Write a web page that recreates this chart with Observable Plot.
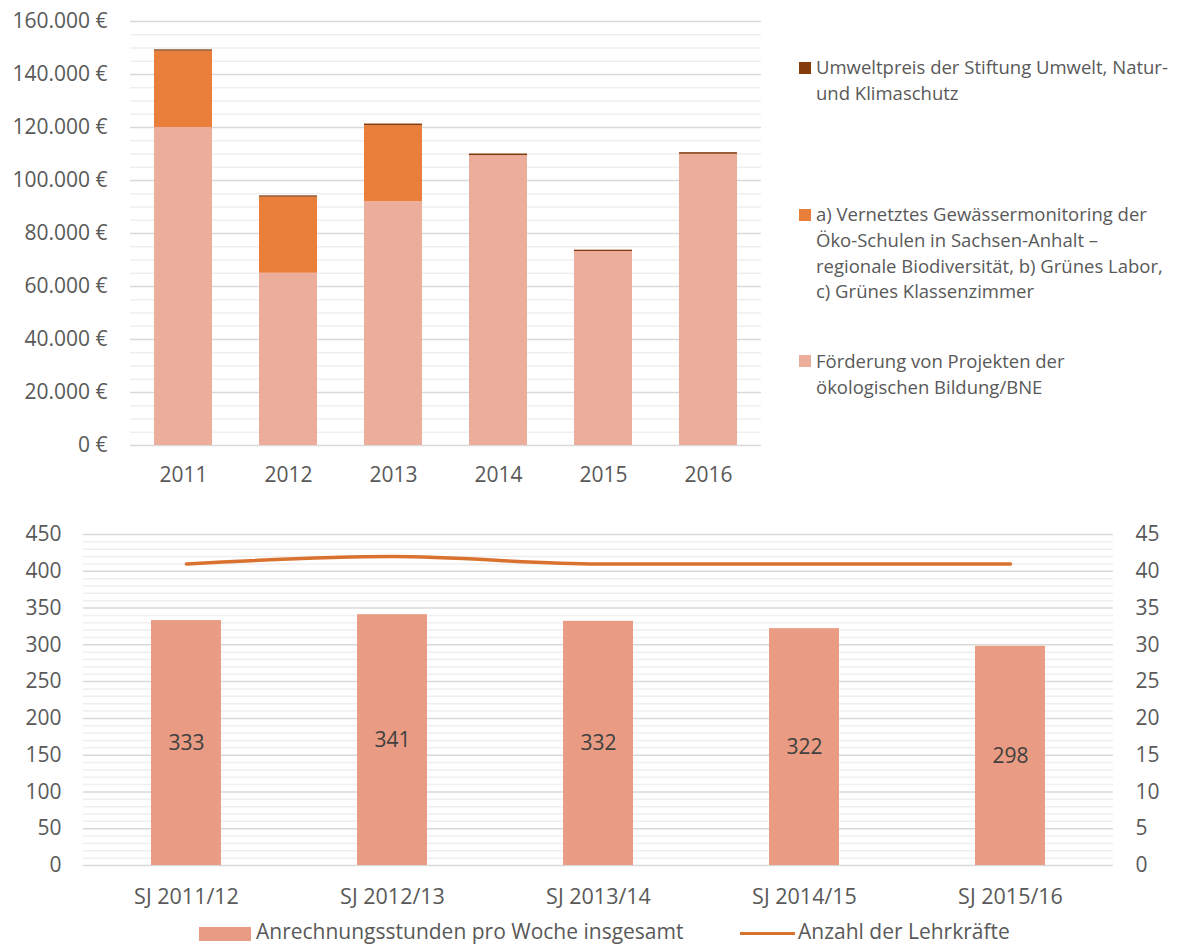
<!DOCTYPE html>
<html>
<head>
<meta charset="utf-8">
<script src="https://cdn.jsdelivr.net/npm/d3@7"></script>
<script src="https://cdn.jsdelivr.net/npm/@observablehq/plot@0.6"></script>
<style>
  body { margin: 0; background: #fff; font-family: "Open Sans", sans-serif; }
  #page { position: relative; width: 1177px; height: 944px; overflow: hidden; background: #fff; }
  #page svg { position: absolute; left: 0; }
  .lg { position: absolute; color: #595959; font-size: 18.5px; line-height: 25.8px; white-space: nowrap; }
  .sw { position: absolute; width: 12px; height: 12px; }
  .blg { position: absolute; color: #595959; font-size: 21px; line-height: 24px; white-space: nowrap; }
</style>
</head>
<body>
<div id="page"></div>
<script>
// ---------- Data: top chart ----------
const years = ["2011", "2012", "2013", "2014", "2015", "2016"];
const seriesNames = [
  "Förderung von Projekten der ökologischen Bildung/BNE",
  "a) Vernetztes Gewässermonitoring der Öko-Schulen in Sachsen-Anhalt – regionale Biodiversität, b) Grünes Labor, c) Grünes Klassenzimmer",
  "Umweltpreis der Stiftung Umwelt, Natur- und Klimaschutz"
];
const bildung     = [120000, 65000, 92000, 109400, 73200, 109900];
const monitoring  = [28800, 28700, 28700, 0, 0, 0];
const umweltpreis = [500, 500, 600, 600, 500, 600];
const yTicksTop = [0, 20000, 40000, 60000, 80000, 100000, 120000, 140000, 160000];

// ---------- Data: bottom chart ----------
const schoolYears = ["SJ 2011/12", "SJ 2012/13", "SJ 2013/14", "SJ 2014/15", "SJ 2015/16"];
const stunden = [333, 341, 332, 322, 298];
const lehrkraefte = [41, 42, 41, 41, 41];
const yTicksLeft = [0, 50, 100, 150, 200, 250, 300, 350, 400, 450];
const barLegend = "Anrechnungsstunden pro Woche insgesamt";
const lineLegend = "Anzahl der Lehrkräfte";

// ---------- Build ----------
const seriesColors = ["#ECAE9B", "#EA7E3B", "#843C0C"];
const seriesValues = [bildung, monitoring, umweltpreis];
const stackData = [];
seriesNames.forEach((s, si) => years.forEach((y, i) => stackData.push({year: y, series: s, value: seriesValues[si][i]})));

const minorTop = d3.range(0, 160001, 5000).filter(v => v % 20000 !== 0);
const fmtEuro = d => d3.format(",")(d).replace(/,/g, ".") + " €";

const page = document.getElementById("page");

const topChart = Plot.plot({
  width: 770,
  height: 500,
  marginLeft: 130,
  marginRight: 9,
  marginTop: 21,
  marginBottom: 55,
  style: {fontFamily: "Open Sans", fontSize: "21px", color: "#595959", background: "transparent", overflow: "visible"},
  x: {domain: years, paddingInner: 0.449, paddingOuter: 0.2245, axis: null, label: null},
  y: {domain: [0, 160000], axis: null, label: null},
  color: {domain: seriesNames, range: seriesColors},
  marks: [
    Plot.ruleY(minorTop, {stroke: "#efefef", strokeWidth: 1.5}),
    Plot.ruleY(yTicksTop, {stroke: "#d9d9d9", strokeWidth: 1.5}),
    Plot.barY(stackData, {x: "year", y: "value", fill: "series", order: seriesNames}),
    Plot.axisY(yTicksTop, {tickSize: 0, tickPadding: 23, tickFormat: fmtEuro, label: null}),
    Plot.axisX({tickSize: 0, tickPadding: 22, label: null})
  ]
});
topChart.style.top = "0px";
page.appendChild(topChart);

// top legend (listed top to bottom: reverse stack order)
const topLegend = [
  {name: ["Umweltpreis der Stiftung Umwelt, Natur-", "und Klimaschutz"], color: seriesColors[2], top: 54, sw: 62},
  {name: ["a) Vernetztes Gewässermonitoring der", "Öko-Schulen in Sachsen-Anhalt –", "regionale Biodiversität, b) Grünes Labor,", "c) Grünes Klassenzimmer"], color: seriesColors[1], top: 201, sw: 209},
  {name: ["Förderung von Projekten der", "ökologischen Bildung/BNE"], color: seriesColors[0], top: 348, sw: 355}
];
topLegend.forEach(e => {
  const sw = document.createElement("div");
  sw.className = "sw";
  sw.style.left = "799px"; sw.style.top = e.sw + "px"; sw.style.background = e.color;
  page.appendChild(sw);
  const t = document.createElement("div");
  t.className = "lg";
  t.style.left = "816px"; t.style.top = e.top + "px";
  t.innerHTML = e.name.join("<br>");
  page.appendChild(t);
});

// bottom chart
const bottomData = schoolYears.map((s, i) => ({sj: s, stunden: stunden[i], lehrer: lehrkraefte[i]}));
const minorBottom = d3.range(0, 451, 10).filter(v => v % 50 !== 0);
const bottomChart = Plot.plot({
  width: 1177,
  height: 395,
  marginLeft: 83,
  marginRight: 64,
  marginTop: 19,
  marginBottom: 45,
  style: {fontFamily: "Open Sans", fontSize: "21px", color: "#595959", background: "transparent", overflow: "visible"},
  x: {domain: schoolYears, paddingInner: 0.66, paddingOuter: 0.33, axis: null, label: null},
  y: {domain: [0, 450], axis: null, label: null},
  marks: [
    Plot.ruleY(minorBottom, {stroke: "#efefef", strokeWidth: 1.5}),
    Plot.ruleY(yTicksLeft, {stroke: "#d9d9d9", strokeWidth: 1.5}),
    Plot.barY(bottomData, {x: "sj", y: "stunden", fill: "#E99C83"}),
    Plot.text(bottomData, {x: "sj", y: d => d.stunden / 2, text: d => String(d.stunden), fill: "#404040", fontSize: 21}),
    Plot.line(bottomData, {x: "sj", y: d => d.lehrer * 10, stroke: "#D9712F", strokeWidth: 3.5, curve: "monotone-x"}),
    Plot.axisY(yTicksLeft, {anchor: "left", tickSize: 0, tickPadding: 22, label: null}),
    Plot.axisY(yTicksLeft, {anchor: "right", tickSize: 0, tickPadding: 22, tickFormat: d => String(d / 10), label: null}),
    Plot.axisX({tickSize: 0, tickPadding: 23, fontSize: 21.5, label: null})
  ]
});
bottomChart.style.top = "515px";
page.appendChild(bottomChart);

// bottom legend
const bsw = document.createElement("div");
bsw.style.cssText = "position:absolute;left:199px;top:927px;width:52px;height:14px;background:#E99C83;";
page.appendChild(bsw);
const bt1 = document.createElement("div");
bt1.className = "blg"; bt1.style.left = "256px"; bt1.style.top = "919px"; bt1.textContent = barLegend;
page.appendChild(bt1);
const lsw = document.createElement("div");
lsw.style.cssText = "position:absolute;left:740px;top:932px;width:55px;height:3px;background:#D9712F;";
page.appendChild(lsw);
const bt2 = document.createElement("div");
bt2.className = "blg"; bt2.style.left = "798px"; bt2.style.top = "919px"; bt2.textContent = lineLegend;
page.appendChild(bt2);
</script>
</body>
</html>
